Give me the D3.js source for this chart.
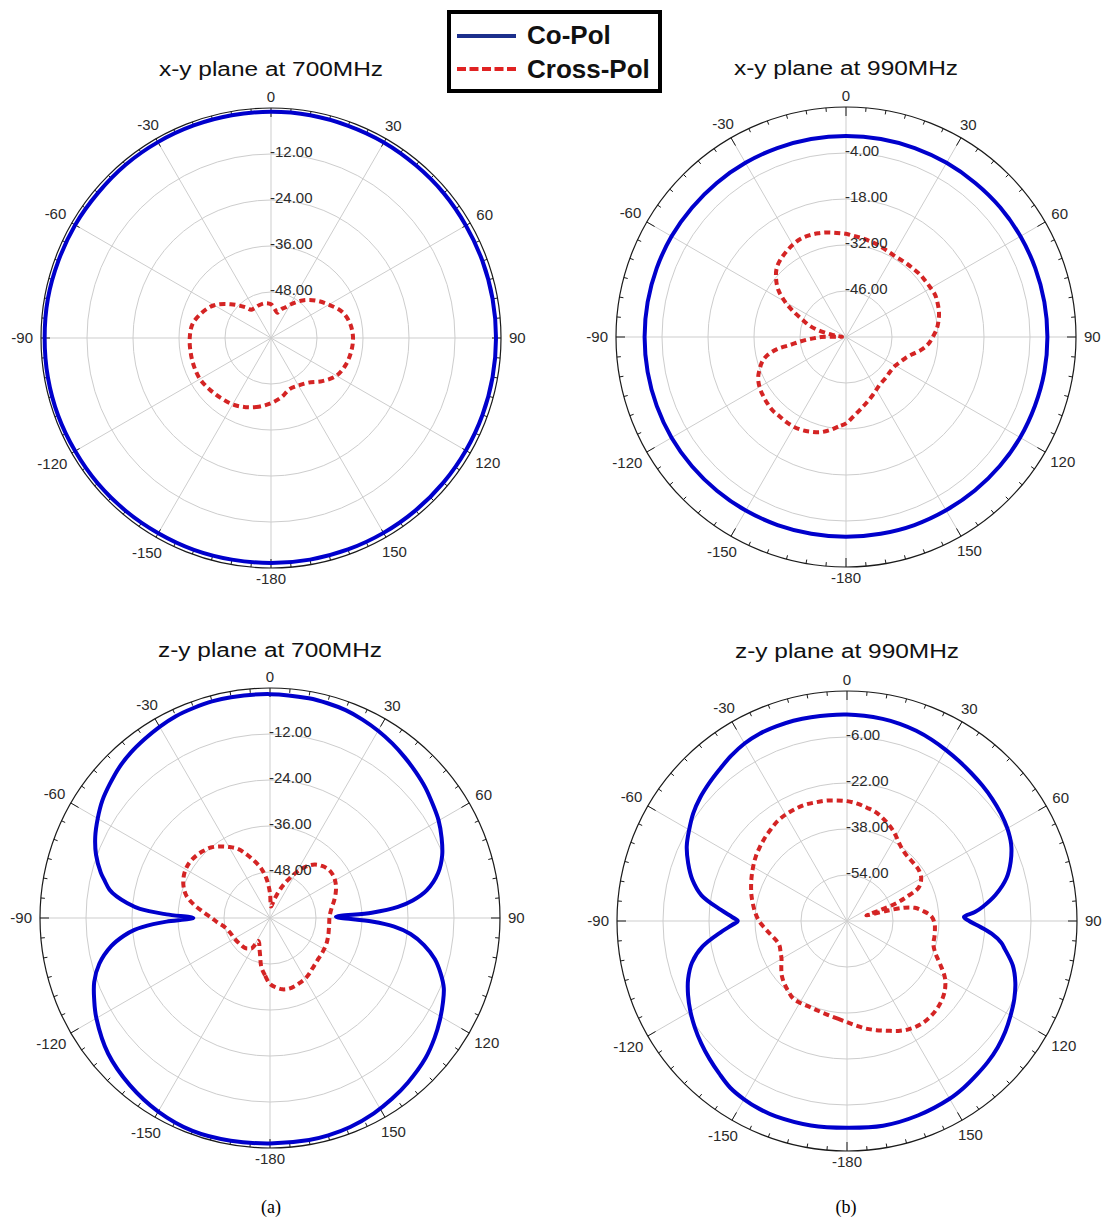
<!DOCTYPE html>
<html><head><meta charset="utf-8">
<script src="https://cdn.jsdelivr.net/npm/d3@7"></script>
<style>body{margin:0;background:#fff}svg{display:block}</style>
</head><body>
<svg id="c" width="1102" height="1221"></svg>
<script>
// ---------------- DATA ----------------
const titles = ["x-y plane at 700MHz", "x-y plane at 990MHz", "z-y plane at 700MHz", "z-y plane at 990MHz"];
const captions = ["(a)", "(b)"];
const seriesNames = ["Co-Pol", "Cross-Pol"];
const angleTickValues = [0, 30, 60, 90, 120, 150, 180, 210, 240, 270, 300, 330];
const angleTickLabels = ["0", "30", "60", "90", "120", "150", "-180", "-150", "-120", "-90", "-60", "-30"];
const ringsXY700 = [-48, -36, -24, -12];
const ringsXY990 = [-46, -32, -18, -4];
const ringsZY700 = [-48, -36, -24, -12];
const ringsZY990 = [-54, -38, -22, -6];

const grid10 = [-180,-170,-160,-150,-140,-130,-120,-110,-100,-90,-80,-70,-60,-50,-40,-30,-20,-10,0,10,20,30,40,50,60,70,80,90,100,110,120,130,140,150,160,170];

// x-y plane 700 MHz
const xy700Co = [-1.3,-1.3,-1.2,-1.2,-1.1,-1.0,-1.0,-0.9,-0.9,-0.95,-0.9,-1.0,-1.0,-1.1,-1.0,-1.0,-1.0,-1.0,-1.0,-1.0,-1.1,-1.1,-1.2,-1.2,-1.3,-1.3,-1.3,-1.3,-1.3,-1.3,-1.3,-1.3,-1.3,-1.3,-1.3,-1.3];
const xy700CrossAng = [-180,-170,-160,-150,-140,-130,-120,-110,-100,-90,-80,-70,-60,-50,-40,-35,-30,-20,-10,0,5,10,14,20,25,30,40,50,60,70,80,90,100,110,120,130,140,150,160,170];
const xy700Cross = [-43.0,-41.8,-40.8,-40.0,-39.6,-39.1,-38.6,-38.6,-38.7,-38.8,-39.2,-40.8,-42.9,-46.3,-49.5,-51.0,-51.1,-50.9,-50.8,-51.2,-52.0,-52.8,-53.2,-52.0,-51.2,-49.9,-47.2,-44.8,-42.6,-40.2,-39.0,-38.6,-38.8,-39.3,-40.3,-42.5,-44.8,-45.7,-45.8,-44.3];

// x-y plane 990 MHz
const xy990Co = [0.8,0.8,0.9,1.0,1.1,1.2,1.3,1.3,1.3,1.3,1.3,1.3,1.3,1.2,1.2,1.2,1.2,1.2,1.2,1.2,1.2,1.2,1.2,1.3,1.3,1.3,1.3,1.3,1.3,1.2,1.2,1.1,1.0,0.9,0.9,0.8];
const xy990CrossAng = [-180,-175,-170,-165,-160,-155,-150,-145,-140,-135,-130,-125,-120,-115,-110,-106,-103,-100,-98,-96,-94,-92,-90,-88,-86,-83,-80,-77,-73,-68,-64,-60,-55,-50,-45,-40,-35,-30,-25,-20,-15,-10,-5,0,5,10,15,20,25,30,35,40,45,50,55,60,65,70,75,80,85,90,95,100,105,110,115,120,125,130,135,140,145,150,155,160,165,170,175];
const xy990Cross = [-33.7,-32.6,-31.2,-30.0,-29.3,-28.7,-28.4,-28.4,-28.5,-28.4,-28.7,-29.1,-29.6,-30.5,-32.1,-33.6,-35.5,-38.7,-43.0,-45.6,-48.0,-50.5,-52.5,-57.5,-58.8,-57.2,-55.1,-52.0,-48.6,-45.5,-42.1,-38.6,-34.8,-32.2,-30.2,-29.1,-28.3,-27.6,-27.1,-27.1,-27.3,-27.7,-28.2,-28.6,-29.2,-29.6,-30.0,-30.4,-30.9,-31.2,-31.2,-31.0,-30.8,-30.5,-30.4,-30.2,-30.0,-30.3,-30.7,-31.4,-32.3,-33.6,-34.9,-36.9,-39.3,-40.9,-41.9,-42.6,-42.9,-42.9,-42.7,-42.5,-42.2,-41.5,-40.6,-39.6,-38.5,-37.2,-35.6];

// z-y plane 700 MHz
const zy700CoAng = [-180,-170,-160,-150,-140,-130,-120,-115,-110,-105,-100,-97,-95,-93,-92,-90,-88,-86,-84,-82,-80,-77,-75,-70,-65,-60,-55,-50,-45,-40,-35,-30,-25,-20,-15,-10,0,10,15,20,25,30,35,40,45,50,55,60,65,70,75,80,83,85,87,89,92,94,96.5,100,104,108,112,116,121,126,132,140,146,152,159,165,170];
const zy700Co = [-1.2,-1.0,-0.9,-1.7,-3.1,-4.9,-7.7,-9.4,-11.2,-13.9,-18.0,-21.5,-24.5,-29.5,-33.0,-40.0,-33.0,-26.0,-22.5,-19.6,-17.5,-15.6,-14.3,-11.7,-9.7,-8.1,-6.6,-5.5,-4.4,-3.6,-3.0,-2.4,-1.9,-1.7,-1.5,-1.5,-1.6,-1.8,-2.0,-2.3,-2.9,-3.6,-4.4,-5.3,-6.2,-7.1,-8.2,-9.2,-10.6,-12.2,-14.6,-18.5,-22.5,-26.5,-33.4,-42.8,-33.4,-27.5,-23.1,-19.2,-15.7,-13.2,-11.1,-9.8,-8.3,-6.9,-5.4,-4.0,-3.1,-2.3,-1.6,-1.3,-1.2];
const zy700CrossAng = [-180,-175,-170,-165,-160,-157,-153,-149,-145,-140,-130,-120,-110,-100,-95,-90,-85,-80,-75,-70,-65,-60,-55,-50,-45,-40,-35,-30,-25,-20,-15,-10,-5,0,5,10,15,20,25,30,35,40,45,50,55,60,65,70,75,80,85,90,95,100,105,110,115,120,125,130,135,140,145,150,155,160,165,170,175];
const zy700Cross = [-42.8,-45.0,-47.0,-50.0,-51.9,-52.8,-53.3,-50.8,-50.3,-49.8,-49.6,-49.3,-48.9,-47.7,-46.3,-44.8,-42.6,-39.8,-37.4,-36.0,-35.1,-34.6,-34.5,-34.8,-35.3,-36.0,-37.2,-38.6,-40.1,-42.4,-44.7,-46.9,-49.8,-53.5,-57.0,-56.2,-54.3,-51.8,-49.2,-46.3,-43.6,-41.8,-40.8,-40.2,-40.1,-40.4,-41.0,-41.8,-42.7,-43.6,-44.2,-44.5,-44.5,-44.4,-44.2,-44.0,-43.8,-43.7,-43.6,-43.5,-43.2,-42.8,-42.2,-41.7,-41.4,-41.1,-40.9,-41.1,-41.8];

// z-y plane 990 MHz
const zy990CoAng = [-180,-170,-160,-155,-150,-145,-140,-135,-130,-125,-120,-115,-110,-105,-100,-95,-92,-90,-88,-85,-80,-75,-70,-65,-60,-55,-50,-45,-40,-35,-30,-25,-20,-15,-10,0,10,15,20,25,30,35,40,45,50,55,60,65,70,75,80,84,86,88,90,92,95,98,100,105,110,115,120,125,130,135,140,145,150,160,170];
const zy990Co = [1.9,2.2,2.3,2.1,1.6,0.8,-0.8,-2.3,-3.8,-5.4,-7.1,-9.0,-11.2,-14.2,-19.0,-26.0,-30.0,-32.0,-30.0,-26.0,-18.6,-14.3,-11.2,-8.5,-6.6,-4.7,-3.3,-2.2,-1.1,0.2,1.3,1.9,2.0,2.1,2.0,1.8,1.4,1.0,0.4,-0.4,-1.3,-2.1,-2.8,-3.4,-4.0,-4.7,-5.6,-7.0,-9.4,-12.6,-17.5,-22.5,-25.4,-29.3,-27.5,-24.5,-19.5,-15.8,-14.3,-10.3,-7.7,-5.8,-4.3,-2.8,-1.6,-0.7,0.0,0.8,1.4,2.0,2.3];
const zy990CrossAng = [-180,-175,-170,-165,-160,-155,-150,-145,-140,-135,-130,-125,-120,-115,-110,-105,-100,-95,-90,-85,-80,-75,-70,-65,-60,-55,-50,-45,-40,-35,-30,-25,-20,-15,-10,-5,0,5,10,15,20,25,30,35,40,45,50,55,60,65,68,70,72,74,75.5,77,79,82.5,86.8,91.8,95,100,105,110,115,120,125,130,135,140,145,150,155,160,165,170,175];
const zy990Cross = [-34.8,-35.8,-36.5,-37.0,-37.3,-37.4,-37.2,-37.2,-38.2,-39.2,-40.4,-42.1,-43.7,-44.5,-45.0,-44.4,-43.0,-41.3,-39.4,-38.0,-36.8,-35.6,-34.5,-33.4,-32.3,-31.2,-30.3,-29.4,-28.6,-27.7,-27.3,-27.1,-27.0,-27.3,-27.5,-27.9,-28.3,-29.0,-30.0,-30.9,-32.4,-34.0,-35.9,-37.8,-38.9,-39.3,-39.3,-39.4,-40.2,-42.5,-47.7,-51.5,-58.0,-63.0,-56.0,-49.4,-46.0,-43.3,-40.6,-39.5,-39.3,-39.1,-38.9,-37.3,-34.2,-30.7,-28.4,-27.0,-26.2,-25.8,-25.9,-26.6,-27.8,-29.4,-30.7,-32.0,-33.5];

// ---------------- LAYOUT ----------------
const R = 230;
const CO_COLOR = "#0000cc", CROSS_COLOR = "#d42424";
const panels = [
  {title: titles[0], cx: 271, cy: 338, ty: 76, dom: [-60, 0], rings: ringsXY700,
   co: d3.zip(grid10, xy700Co), cross: d3.zip(xy700CrossAng, xy700Cross)},
  {title: titles[1], cx: 846, cy: 337, ty: 75, dom: [-60, 10], rings: ringsXY990,
   co: d3.zip(grid10, xy990Co), cross: d3.zip(xy990CrossAng, xy990Cross)},
  {title: titles[2], cx: 270, cy: 918, ty: 657, dom: [-60, 0], rings: ringsZY700,
   co: d3.zip(zy700CoAng, zy700Co), cross: d3.zip(zy700CrossAng, zy700Cross)},
  {title: titles[3], cx: 847, cy: 921, ty: 658, dom: [-70, 10], rings: ringsZY990,
   co: d3.zip(zy990CoAng, zy990Co), cross: d3.zip(zy990CrossAng, zy990Cross)}
];

const svg = d3.select("#c");
const FONT = "'Liberation Sans', Arial, sans-serif";
const rad = Math.PI / 180;
const fmt = v => d3.format(".2f")(v).replace("\u2212", "-");

panels.forEach(p => {
  const g = svg.append("g").attr("transform", `translate(${p.cx},${p.cy})`);
  const r = d3.scaleLinear().domain(p.dom).range([0, R]).clamp(true);

  // grid rings
  g.selectAll("circle.ring").data(p.rings).join("circle")
    .attr("class", "ring").attr("r", d => r(d))
    .attr("fill", "none").attr("stroke", "#cdcdcd").attr("stroke-width", 1);

  // spokes
  g.selectAll("line.spoke").data(angleTickValues).join("line")
    .attr("class", "spoke")
    .attr("x1", 0).attr("y1", 0)
    .attr("x2", d => R * Math.sin(d * rad)).attr("y2", d => -R * Math.cos(d * rad))
    .attr("stroke", "#cdcdcd").attr("stroke-width", 1);

  // outer circle
  g.append("circle").attr("r", R).attr("fill", "none").attr("stroke", "#1a1a1a").attr("stroke-width", 1.2);

  // ticks every 5 degrees
  const ticks = d3.range(0, 360, 5);
  g.selectAll("line.tick").data(ticks).join("line")
    .attr("class", "tick")
    .attr("x1", d => R * Math.sin(d * rad)).attr("y1", d => -R * Math.cos(d * rad))
    .attr("x2", d => (R - (d % 30 === 0 ? 9 : 4)) * Math.sin(d * rad))
    .attr("y2", d => -(R - (d % 30 === 0 ? 9 : 4)) * Math.cos(d * rad))
    .attr("stroke", "#1a1a1a").attr("stroke-width", 1);

  // series
  const line = d3.lineRadial()
    .angle(d => d[0] * rad)
    .radius(d => r(d[1]))
    .curve(d3.curveCatmullRomClosed.alpha(0.5));

  g.append("path").datum(p.co).attr("d", line)
    .attr("fill", "none").attr("stroke", CO_COLOR).attr("stroke-width", 4);
  g.append("path").datum(p.cross).attr("d", line)
    .attr("fill", "none").attr("stroke", CROSS_COLOR).attr("stroke-width", 4)
    .attr("stroke-dasharray", "6,4");

  // ring labels
  g.selectAll("text.rl").data(p.rings).join("text")
    .attr("class", "rl")
    .attr("x", -1).attr("y", d => -r(d) + 3)
    .attr("font-family", FONT).attr("font-size", 15).attr("fill", "#2a2a2a")
    .text(d => fmt(d));

  // angle labels
  angleTickValues.forEach((a, i) => {
    const t = g.append("text")
      .attr("font-family", FONT).attr("font-size", 15).attr("fill", "#2a2a2a")
      .attr("text-anchor", "middle")
      .text(angleTickLabels[i]);
    const w = t.node().getComputedTextLength();
    const s = Math.sin(a * rad), c = Math.cos(a * rad);
    const d = R + 8 + (w / 2) * Math.abs(s) + 3 * Math.abs(c);
    t.attr("x", d * s).attr("y", -d * c + 5);
  });

  // title
  svg.append("text")
    .attr("x", p.cx).attr("y", p.ty)
    .attr("text-anchor", "middle")
    .attr("font-family", FONT).attr("font-size", 20).attr("fill", "#111")
    .attr("textLength", 224).attr("lengthAdjust", "spacingAndGlyphs")
    .text(p.title);
});

// legend
const lg = svg.append("g");
lg.append("rect").attr("x", 449).attr("y", 12).attr("width", 211).attr("height", 79)
  .attr("fill", "#fff").attr("stroke", "#000").attr("stroke-width", 4);
lg.append("line").attr("x1", 457).attr("x2", 516).attr("y1", 36).attr("y2", 36)
  .attr("stroke", "#1c2f8c").attr("stroke-width", 4);
lg.append("line").attr("x1", 457).attr("x2", 516).attr("y1", 69).attr("y2", 69)
  .attr("stroke", "#e02222").attr("stroke-width", 4).attr("stroke-dasharray", "9,3.5");
lg.append("text").attr("x", 527).attr("y", 44).attr("font-family", FONT)
  .attr("font-weight", "bold").attr("font-size", 26).attr("fill", "#111").text(seriesNames[0]);
lg.append("text").attr("x", 527).attr("y", 78).attr("font-family", FONT)
  .attr("font-weight", "bold").attr("font-size", 26).attr("fill", "#111").text(seriesNames[1]);

// captions
svg.append("text").attr("x", 271).attr("y", 1213).attr("text-anchor", "middle")
  .attr("font-family", "'Liberation Serif', 'Times New Roman', serif").attr("font-size", 18).text(captions[0]);
svg.append("text").attr("x", 846).attr("y", 1213).attr("text-anchor", "middle")
  .attr("font-family", "'Liberation Serif', 'Times New Roman', serif").attr("font-size", 18).text(captions[1]);
</script>
</body></html>
